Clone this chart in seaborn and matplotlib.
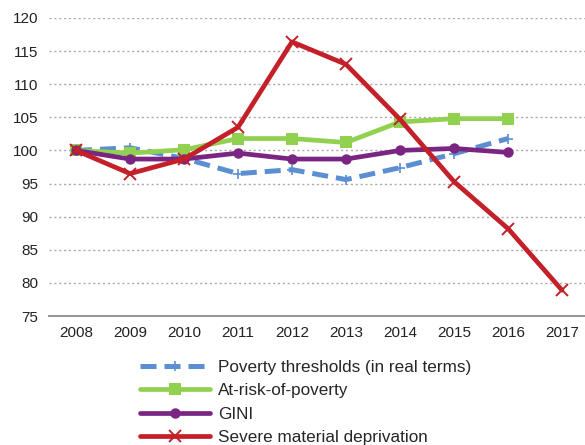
import numpy as np
import pandas as pd
import matplotlib.pyplot as plt
import seaborn as sns
from matplotlib.lines import Line2D

years = ['2008', '2009', '2010', '2011', '2012', '2013', '2014', '2015', '2016', '2017']
poverty_thresholds = [100.0, 100.4, 98.8, 96.5, 97.1, 95.6, 97.4, 99.5, 101.8, np.nan]
at_risk = [100.0, 99.6, 100.1, 101.8, 101.8, 101.2, 104.3, 104.8, 104.8, np.nan]
gini = [100.0, 98.7, 98.7, 99.6, 98.7, 98.7, 100.0, 100.3, 99.7, np.nan]
severe_dep = [100.0, 96.5, 98.7, 103.5, 116.4, 113.0, 104.7, 95.3, 88.2, 78.9]

labels = ['Poverty thresholds (in real terms)', 'At-risk-of-poverty', 'GINI',
          'Severe material deprivation']
series = [poverty_thresholds, at_risk, gini, severe_dep]
colors = ['#5B8FD2', '#92D050', '#7B2583', '#C4202A']

sns.set_theme(style='white')
plt.rcParams['font.family'] = ['Liberation Sans', 'DejaVu Sans']

rows = []
for lab, vals in zip(labels, series):
    for i, v in enumerate(vals):
        rows.append({'pos': i, 'value': v, 'series': lab})
df = pd.DataFrame(rows).dropna()

fig = plt.figure(figsize=(5.85, 4.45), dpi=100)
ax = fig.add_axes([49 / 585, 129 / 445, 540 / 585, 298 / 445])

styles = {
    labels[0]: dict(linestyle=(0, (3.2, 1.6)), marker='+', markersize=7, mew=1.2, lw=3.6),
    labels[1]: dict(linestyle='-', marker='s', markersize=9, mew=0, lw=3.4),
    labels[2]: dict(linestyle='-', marker='o', markersize=7.5, mew=0, lw=3.4),
    labels[3]: dict(linestyle='-', marker='x', markersize=8, mew=1.4, lw=3.4),
}

for lab, col in zip(labels, colors):
    st = styles[lab]
    sns.lineplot(data=df[df['series'] == lab], x='pos', y='value', ax=ax, color=col,
                 linestyle=st['linestyle'], marker=st['marker'], markersize=st['markersize'],
                 markeredgewidth=st['mew'], markeredgecolor=col, linewidth=st['lw'],
                 sort=False, legend=False, zorder=3)

ax.set_xlim(-0.5, 9.5)
ax.set_ylim(75, 120)
ax.set_yticks(np.arange(75, 121, 5))
ax.set_xticks(range(len(years)))
ax.set_xticklabels(years)
ax.set_xticks(np.arange(-0.5, 10, 1), minor=True)
ax.tick_params(axis='x', which='major', length=0, labelsize=11, pad=7, colors='#222222')
ax.tick_params(axis='x', which='minor', length=5, width=1.2, color='#999999', direction='out')
ax.tick_params(axis='y', length=0, labelsize=11, pad=8, colors='#222222')
ax.set_xlabel('')
ax.set_ylabel('')
ax.yaxis.grid(True, linestyle=(0, (1.5, 2)), color='#AAAAAA', linewidth=1)
ax.set_axisbelow(True)
for s in ['top', 'right', 'left']:
    ax.spines[s].set_visible(False)
ax.spines['bottom'].set_color('#999999')
ax.spines['bottom'].set_linewidth(1.5)

handles = []
for lab, col in zip(labels, colors):
    st = styles[lab]
    handles.append(Line2D([0], [0], color=col, linestyle=st['linestyle'], marker=st['marker'],
                          markersize=st['markersize'], markeredgewidth=st['mew'],
                          markeredgecolor=col, linewidth=st['lw']))
fig.legend(handles, labels, loc='upper left', bbox_to_anchor=(140 / 585, 1 - 360 / 445),
           frameon=False, fontsize=12.3, handlelength=4.1, handletextpad=0.45,
           labelspacing=0.49, borderaxespad=0, borderpad=0)

fig.savefig('out.png', dpi=100)
